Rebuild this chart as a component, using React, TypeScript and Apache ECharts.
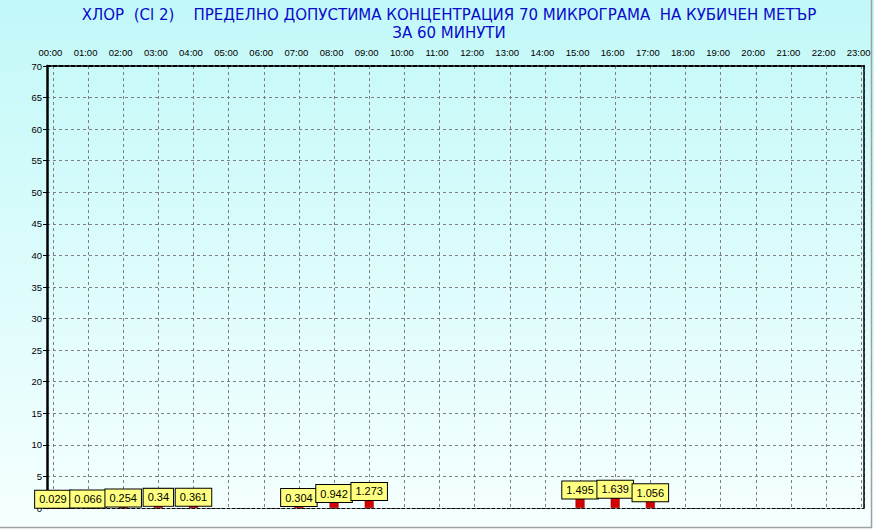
import React, { useEffect, useRef } from "react";
import * as echarts from "echarts";

const HOUR_LABELS = [
  "00:00", "01:00", "02:00", "03:00", "04:00", "05:00", "06:00", "07:00",
  "08:00", "09:00", "10:00", "11:00", "12:00", "13:00", "14:00", "15:00",
  "16:00", "17:00", "18:00", "19:00", "20:00", "21:00", "22:00", "23:00",
];
const DATA_HOURS = [0, 1, 2, 3, 4, 7, 8, 9, 15, 16, 17];
const DATA_VALUES = [0.029, 0.066, 0.254, 0.34, 0.361, 0.304, 0.942, 1.273, 1.495, 1.639, 1.056];
const Y_TICKS_MIN = 0;
const Y_TICKS_MAX = 70;
const Y_INTERVAL = 5;

const NB = "\u00A0";
const TITLE_LINE1 = `ХЛОР${NB}${NB}(Cl 2)${NB}${NB}${NB}${NB}ПРЕДЕЛНО ДОПУСТИМА КОНЦЕНТРАЦИЯ 70 МИКРОГРАМА${NB}${NB}НА КУБИЧЕН МЕТЪР`;
const TITLE_LINE2 = "ЗА 60 МИНУТИ";

const FONT = "'Liberation Sans', Arial, sans-serif";
const TITLE_FONT = "'DejaVu Sans', 'Liberation Sans', sans-serif";

export default function App() {
  const ref = useRef<HTMLDivElement>(null);
  useEffect(() => {
    document.body.style.margin = "0";
    const chart = echarts.init(ref.current!, null, { renderer: "svg" });
    const data = DATA_HOURS.map((h, i) => [h, DATA_VALUES[i]]);
    const xMin = -0.168;
    const xMax = 23.08;
    chart.setOption({
      animation: false,
      backgroundColor: {
        type: "linear", x: 0, y: 0, x2: 0, y2: 1,
        colorStops: [
          { offset: 0, color: "#c2f8f8" },
          { offset: 1, color: "#f6ffff" },
        ],
      },
      title: {
        text: TITLE_LINE1 + "\n" + TITLE_LINE2,
        left: 444,
        top: 1,
        textAlign: "center",
        textStyle: {
          fontFamily: TITLE_FONT, fontSize: 15, lineHeight: 18,
          fontWeight: "normal", color: "#0a0acc",
        },
      },
      grid: { left: 47, right: 10, top: 66, bottom: 21, containLabel: false },
      xAxis: [
        {
          type: "value", position: "top", min: xMin, max: xMax,
          splitNumber: 23, minInterval: 1, maxInterval: 1,
          axisLine: { show: true, onZero: false, lineStyle: { color: "#000", width: 2, type: [4, 2] } },
          axisTick: { show: false },
          axisLabel: {
            fontFamily: FONT, fontSize: 9.5, color: "#000", margin: 9,
            padding: [0, 5, 0, 0],
            showMinLabel: true, showMaxLabel: true,
            formatter: (v: number) => {
              const r = Math.round(v);
              return Math.abs(v - r) < 1e-6 && r >= 0 && r < HOUR_LABELS.length ? HOUR_LABELS[r] : "";
            },
          },
          splitLine: { show: true, lineStyle: { color: "#808080", width: 1, type: [3, 3] } },
        },
        {
          type: "value", position: "bottom", min: xMin, max: xMax,
          splitNumber: 23, minInterval: 1, maxInterval: 1,
          axisLine: { show: true, onZero: false, lineStyle: { color: "#000", width: 1, type: [3, 2] } },
          axisTick: { show: false },
          axisLabel: { show: false },
          splitLine: { show: false },
        },
      ],
      yAxis: [
        {
          type: "value", position: "left", min: Y_TICKS_MIN, max: Y_TICKS_MAX, interval: Y_INTERVAL,
          axisLine: { show: true, onZero: false, lineStyle: { color: "#000", width: 2.5 } },
          axisTick: { show: true, length: 4, lineStyle: { color: "#000", width: 1 } },
          axisLabel: { fontFamily: FONT, fontSize: 9.5, color: "#000", margin: 5 },
          splitLine: { show: true, lineStyle: { color: "#808080", width: 1, type: [3, 3] } },
        },
        {
          type: "value", position: "right", min: Y_TICKS_MIN, max: Y_TICKS_MAX, interval: Y_INTERVAL,
          axisLine: { show: true, onZero: false, lineStyle: { color: "#000", width: 1.5 } },
          axisTick: { show: false },
          axisLabel: { show: false },
          splitLine: { show: false },
        },
      ],
      graphic: [
        { type: "line", shape: { x1: 0, y1: 527.5, x2: 872, y2: 527.5 }, style: { stroke: "#a0a0a0", lineWidth: 1.5 } },
        { type: "line", shape: { x1: 871.5, y1: 0, x2: 871.5, y2: 528 }, style: { stroke: "#a0a0a0", lineWidth: 1.5 } },
      ],
      series: [
        {
          type: "bar",
          xAxisIndex: 0,
          yAxisIndex: 0,
          data,
          barWidth: 9,
          itemStyle: { color: "#d40000", borderColor: "#800000", borderWidth: 0.5 },
          label: {
            show: true,
            position: "top",
            distance: 0,
            formatter: (p: any) => String(p.value[1]),
            fontFamily: FONT,
            fontSize: 11,
            lineHeight: 13,
            color: "#000",
            backgroundColor: "#ffff80",
            borderColor: "#000",
            borderWidth: 1,
            padding: [2, 4, 2, 4],
          },
        },
      ],
    });
    return () => chart.dispose();
  }, []);
  return <div ref={ref} style={{ width: 874, height: 529 }} />;
}
